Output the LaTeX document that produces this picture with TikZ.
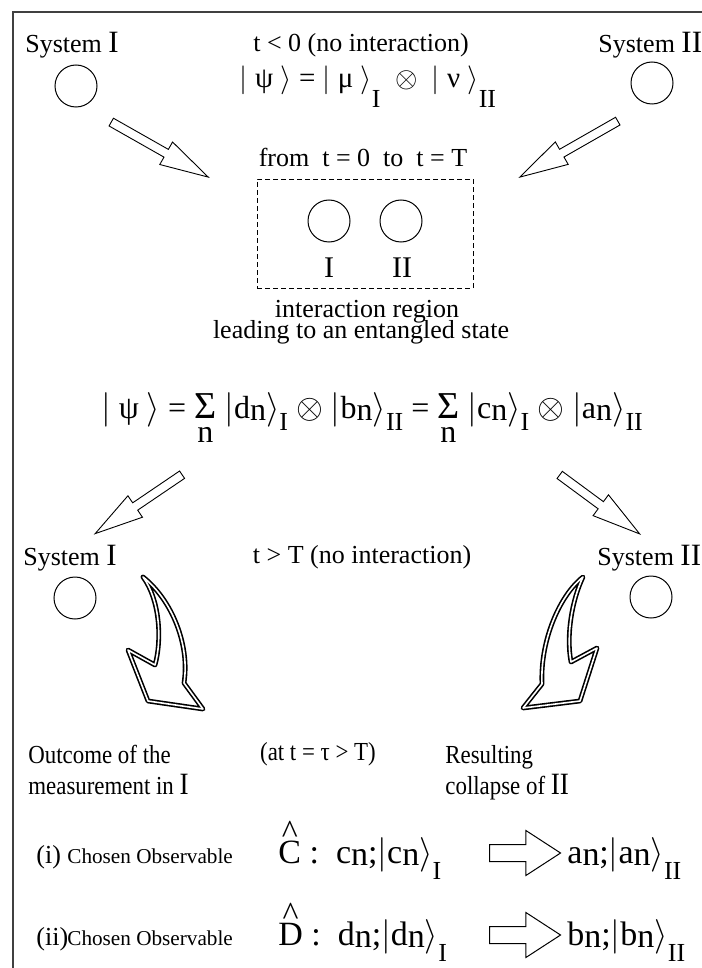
\documentclass[tikz,border=0pt]{standalone}
\usepackage{fontspec}
\setmainfont{Liberation Serif}
\newfontfamily\narrowfont[FakeStretch=0.88]{Liberation Serif}
\usetikzlibrary{shapes.arrows,calc}

% roman numerals are set larger than the running text
\newcommand\rn[1]{{\fontsize{15.5}{18}\selectfont #1}}
% low hanging subscript (I, II) and the small n
\newcommand\lowsub[2][10pt]{\raisebox{-#1}{\fontsize{13}{15}\selectfont #2}}
\newcommand\ns{\raisebox{-0.08em}{n}}
% bars and brackets of a ket
\newcommand\kbar{$\big|$}
\newcommand\kend{$\big\rangle$}
% sum sign with n underneath
\newcommand\sumn{\setbox0\hbox{\fontsize{19}{19}\selectfont Σ}\rlap{\hbox to\wd0{\hss\raisebox{-12pt}{n}\hss}}\box0}
% operator with a detached hat
\newcommand\hatover[1]{\setbox0\hbox{#1}\rlap{\hbox to\wd0{\hss\raisebox{10pt}{\textasciicircum}\hss}}\box0}
% hollow block arrow between two named points
\newcommand\hollowarrow[4][]{%
  \path let \p1=($(#4)-(#3)$) in
    node[#2, #1, minimum height={veclen(\x1,\y1)}, rotate={atan2(\y1,\x1)}]
    at ($(#3)!0.5!(#4)$) {};}

\begin{document}
\begin{tikzpicture}[x=0.5pt, y=-0.5pt,
  txt/.style={font=\fontsize{13}{15}\selectfont, inner sep=0pt},
  narrow/.style={font=\narrowfont\fontsize{13}{15}\selectfont, inner sep=0pt},
  small/.style={font=\fontsize{10.6}{13}\selectfont, inner sep=0pt},
  formula/.style={font=\fontsize{#1}{18}\selectfont, inner sep=0pt},
  ball/.style={circle, draw, line width=0.5pt, minimum size=21pt, inner sep=0pt},
  slim arrow/.style={single arrow, draw, line width=0.45pt, inner sep=0pt, inner ysep=2pt,
    single arrow head extend=4.25pt, single arrow tip angle=30},
  fat arrow/.style={single arrow, draw, line width=0.5pt, inner sep=0pt, inner ysep=4pt,
    single arrow head extend=7pt, single arrow tip angle=66},
  swoosh/.style={draw, fill=white, line width=0.8pt, double=white, double distance=0.8pt, line join=round}]
  \useasboundingbox (0,0) rectangle (701,968);
  % Frame
  \draw[line width=0.6pt, black!75] (13,968) -- (13,12) -- (710,12);

  % Before the interaction
  \node[txt, anchor=base west] (sysI) at (25,53) {System \rn{I}};
  \node[ball] (ballI) at (76,86) {};
  \node[txt, anchor=base west] (sysII) at (598,53) {System \rn{II}};
  \node[ball] (ballII) at (652,83) {};
  \node[txt, anchor=base] (before) at (361,52) {t < 0 (no interaction)};
  \node[formula=14.5, anchor=base] (product) at (368,88)
    {\kbar\ ψ\ \kend\ =\ \kbar\ μ\ \kend\lowsub{I}\ \ $\otimes$\ \ \kbar\ ν\ \kend\lowsub{II}};
  \coordinate (inIa) at (104,118);  \coordinate (inIb) at (201,173);
  \coordinate (inIIa) at (625,117); \coordinate (inIIb) at (527,173);
  \hollowarrow[name=inI]{slim arrow}{inIa}{inIb}
  \hollowarrow[name=inII]{slim arrow}{inIIa}{inIIb}

  % Interaction region
  \node[txt, anchor=base] (during) at (363,167) {from\ \ t = 0\ \ to\ \ t = T};
  \node[draw, dashed, dash pattern=on 2.5pt off 1.5pt, line width=0.4pt,
    minimum width=108pt, minimum height=54.5pt] (region) at (365,233.5) {};
  \node[ball] (ballmI) at (329,221) {};
  \node[ball] (ballmII) at (401,221) {};
  \node[formula=15, anchor=base] (labI) at (329,278) {I};
  \node[formula=15, anchor=base] (labII) at (402,278) {II};
  \node[txt, anchor=base] (note1) at (367,317) {interaction region};
  \node[txt, anchor=base] (note2) at (361,338) {leading to an entangled state};
  \node[formula=16, anchor=base] (entangled) at (372,418)
    {\kbar\ ψ\ \kend\ =\ \sumn\ \kbar d\ns\kend\lowsub[6pt]{I}\ $\otimes$\ \kbar b\ns\kend\lowsub[6pt]{II}\ =\ \sumn\ \kbar c\ns\kend\lowsub[6pt]{I}\ $\otimes$\ \kbar a\ns\kend\lowsub[6pt]{II}};
  \coordinate (outIa) at (189,470);  \coordinate (outIb) at (102,529);
  \coordinate (outIIa) at (553,470); \coordinate (outIIb) at (633,529);
  \hollowarrow[name=outI]{slim arrow}{outIa}{outIb}
  \hollowarrow[name=outII]{slim arrow}{outIIa}{outIIb}

  % After the interaction
  \node[txt, anchor=base west] (sysIb) at (23,565) {System \rn{I}};
  \node[ball] (ballIb) at (75,598) {};
  \node[txt, anchor=base] (after) at (362,563) {t > T (no interaction)};
  \node[txt, anchor=base west] (sysIIb) at (597,565) {System \rn{II}};
  \node[ball] (ballIIb) at (651,597) {};
  % Curved arrows
  \draw[swoosh] (143,577) .. controls (172,600) and (190,645) .. (184,683) -- (203,709)
    -- (148,701) -- (128,650) -- (155,665) .. controls (162,640) and (160,600) .. cycle;
  \draw[swoosh] (583,577) .. controls (560,595) and (540,640) .. (542,684) -- (523,708)
    -- (580,701) -- (597,648) -- (571,662) .. controls (566,635) and (572,600) .. cycle;

  % Measurement
  \node[narrow, anchor=base west] (outcome) at (28,763) {Outcome of the};
  \node[narrow, anchor=base west] (outcome2) at (28,794) {measurement in \rn{I}};
  \node[narrow, anchor=base] (when) at (318,760) {(at t = τ > T)};
  \node[narrow, anchor=base west] (collapse) at (445,763) {Resulting};
  \node[narrow, anchor=base west] (collapse2) at (445,794) {collapse of \rn{II}};

  % Case (i)
  \node[txt, anchor=base west] (caseI) at (36,863) {(i)};
  \node[small, anchor=base west] (chooseI) at (67,863) {Chosen Observable};
  \node[formula=17, anchor=base west] (opC) at (278,863)
    {\hatover{C}\ :\ \ c\ns;\kbar c\ns\kend\lowsub[8pt]{I}};
  \coordinate (impIa) at (483,853); \coordinate (impIb) at (554,853);
  \hollowarrow[name=impI]{fat arrow}{impIa}{impIb}
  \node[formula=17, anchor=base west] (resA) at (567,863) {a\ns;\kbar a\ns\kend\lowsub[8pt]{II}};

  % Case (ii)
  \node[txt, anchor=base west] (caseII) at (36,945) {(ii)};
  \node[small, anchor=base west] (chooseII) at (67,945) {Chosen Observable};
  \node[formula=17, anchor=base west] (opD) at (278,945)
    {\hatover{D}\ :\ \ d\ns;\kbar d\ns\kend\lowsub[8pt]{I}};
  \coordinate (impIIa) at (483,935); \coordinate (impIIb) at (554,935);
  \hollowarrow[name=impII]{fat arrow}{impIIa}{impIIb}
  \node[formula=17, anchor=base west] (resB) at (567,945) {b\ns;\kbar b\ns\kend\lowsub[8pt]{II}};
\end{tikzpicture}
\end{document}
